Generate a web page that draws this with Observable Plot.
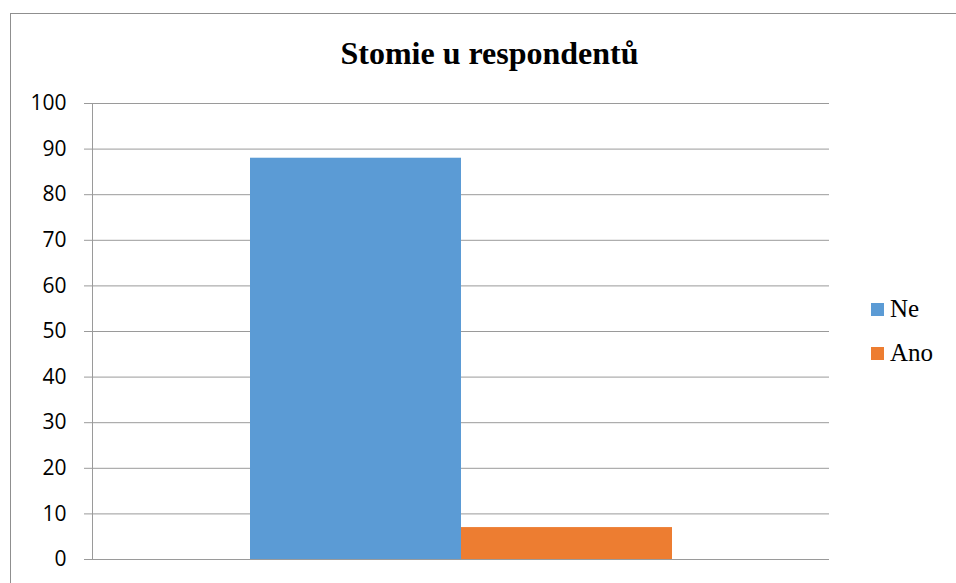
<!DOCTYPE html>
<html>
<head>
<meta charset="utf-8">
<script src="https://cdn.jsdelivr.net/npm/d3@7"></script>
<script src="https://cdn.jsdelivr.net/npm/@observablehq/plot@0.6"></script>
<style>
  html, body { margin: 0; padding: 0; background: #fff; }
  #chart { position: relative; width: 956px; height: 583px; overflow: hidden; }
  #border { position: absolute; left: 10px; top: 13px; width: 2000px; height: 2000px;
            border-left: 1px solid #8f8f8f; border-top: 1px solid #8f8f8f; }
  #title { position: absolute; top: 37px; left: 489.5px; transform: translateX(-50%);
           font: bold 32px/32px "Liberation Serif", "Times New Roman", serif; white-space: nowrap; color: #000; }
  .legend-item { position: absolute; left: 871px; font: 25px/25px "Liberation Serif", "Times New Roman", serif;
                 color: #000; white-space: nowrap; }
  .legend-item .swatch { display: inline-block; width: 13px; height: 13px; margin-right: 6px; vertical-align: 1px; }
  #plot { position: absolute; left: 0; top: 0; }
</style>
</head>
<body>
<div id="chart">
  <div id="border"></div>
  <div id="plot"></div>
  <div id="title"></div>
  <div id="legend"></div>
</div>
<script>
// Stomie u respondentů — count of respondents with / without a stoma
const title = "Stomie u respondentů";
const categories = ["Ne", "Ano"];
const values = [88, 7];
const colors = ["#5B9BD5", "#ED7D31"];
const yTicks = [0, 10, 20, 30, 40, 50, 60, 70, 80, 90, 100];

const data = categories.map((category, i) => ({category, value: values[i]}));
const gridColor = "#9a9a9a";

const chart = Plot.plot({
  width: 956,
  height: 583,
  marginLeft: 92,
  marginRight: 127,
  marginTop: 103,
  marginBottom: 24,
  style: {background: "transparent", fontFamily: "'Open Sans', sans-serif", fontSize: "21px", color: "#000", overflow: "visible"},
  x: {domain: categories, paddingInner: 0, paddingOuter: 0.746, axis: null},
  y: {domain: [0, 100], ticks: yTicks, label: null},
  color: {domain: categories, range: colors},
  marks: [
    Plot.ruleY(yTicks, {stroke: gridColor, strokeOpacity: 1}),
    Plot.axisY({ticks: yTicks, tickSize: 8, tickPadding: 18, stroke: gridColor, strokeOpacity: 1, fill: "#000", label: null, tickFormat: d => String(d)}),
    Plot.frame({anchor: "left", stroke: gridColor, strokeOpacity: 1}),
    Plot.barY(data, {x: "category", y: "value", fill: "category", inset: 0})
  ]
});
document.getElementById("plot").append(chart);

document.getElementById("title").textContent = title;

// legend on the right
const legend = document.getElementById("legend");
const legendTops = [296, 340];
categories.forEach((c, i) => {
  const item = document.createElement("div");
  item.className = "legend-item";
  item.style.top = legendTops[i] + "px";
  const sw = document.createElement("span");
  sw.className = "swatch";
  sw.style.background = colors[i];
  item.append(sw, document.createTextNode(c));
  legend.append(item);
});
</script>
</body>
</html>
